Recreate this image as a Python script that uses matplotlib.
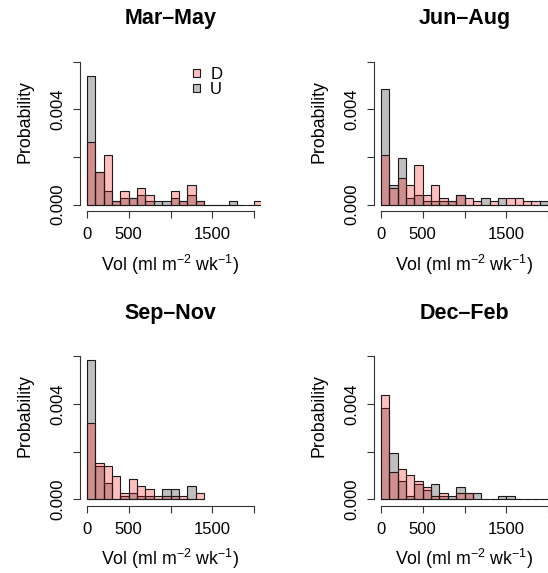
import numpy as np
import matplotlib
matplotlib.use("Agg")
import matplotlib.pyplot as plt
from matplotlib.patches import Patch

plt.rcParams['font.family'] = ['Liberation Sans', 'DejaVu Sans']
plt.rcParams['mathtext.fontset'] = 'custom'
plt.rcParams['mathtext.rm'] = 'Liberation Sans'
plt.rcParams['mathtext.default'] = 'regular'

# ---- data: weekly volume counts per 100 ml m^-2 wk^-1 bin, bins start at 0 ----
bin_width = 100
seasons = ["Mar\u2013May", "Jun\u2013Aug", "Sep\u2013Nov", "Dec\u2013Feb"]
groups = ["D", "U"]

mar_may_D = [19, 10, 15, 1, 4, 2, 5, 3, 0, 0, 4, 1, 6, 1, 0, 0, 0, 0, 0, 0, 1]
mar_may_U = [39, 10, 4, 1, 2, 2, 3, 1, 1, 1, 2, 1, 3, 1, 0, 0, 0, 1]
jun_aug_D = [15, 5, 8, 6, 12, 3, 6, 2, 1, 3, 2, 1, 0, 1, 0, 2, 2, 1, 1, 0, 1]
jun_aug_U = [35, 6, 14, 2, 3, 1, 1, 1, 1, 3, 0, 0, 2, 0, 2, 0, 0, 0, 0, 1]
sep_nov_D = [23, 11, 10, 7, 2, 6, 4, 3, 1, 1, 1, 1, 0, 2]
sep_nov_U = [42, 10, 5, 0, 1, 2, 1, 1, 0, 3, 3, 0, 4]
dec_feb_D = [34, 9, 10, 8, 6, 4, 1, 2, 0, 2, 2]
dec_feb_U = [30, 15, 6, 1, 5, 3, 5, 1, 1, 4, 2, 2, 0, 0, 1, 1, 0, 0, 0, 0, 1]

season_counts = [
    (mar_may_D, mar_may_U),
    (jun_aug_D, jun_aug_U),
    (sep_nov_D, sep_nov_U),
    (dec_feb_D, dec_feb_U),
]

x_ticks = [0, 500, 1000, 1500, 2000]
x_tick_labels = ["0", "500", "", "1500", ""]
y_ticks = [0, 0.002, 0.004, 0.006]
y_tick_labels = ["0.000", "", "0.004", ""]

# ---- styling ----
col_D = (1.0, 0.0, 0.0, 0.25)
col_U = (0.0, 0.0, 0.0, 0.25)
edge = "#1a1a1a"
W, H = 548, 573
fig = plt.figure(figsize=(W / 100, H / 100), dpi=100)


def px_axes(left, top, width, height):
    return [left / W, 1 - (top + height) / H, width / W, height / H]


col_left = [80.3, 374.3]
row_top = [31.2, 325.8]
ax_w, ax_h = 180.4, 180.2
ylo, yhi = -0.00028, 0.00728

for i, (title, (d_cnt, u_cnt)) in enumerate(zip(seasons, season_counts)):
    r, c = divmod(i, 2)
    ax = fig.add_axes(px_axes(col_left[c], row_top[r], ax_w, ax_h))
    for cnt, col in ((u_cnt, col_U), (d_cnt, col_D)):
        cnt = np.asarray(cnt, dtype=float)
        dens = cnt / (cnt.sum() * bin_width)
        left_edges = np.arange(len(cnt)) * bin_width
        ax.bar(left_edges, dens, width=bin_width, align="edge",
               facecolor=col, edgecolor=edge, linewidth=0.8)
    ax.set_xlim(-80, 2080)
    ax.set_ylim(ylo, yhi)
    for s in ("top", "right"):
        ax.spines[s].set_visible(False)
    ax.spines["left"].set_bounds(0, 0.006)
    ax.spines["bottom"].set_bounds(0, 2000)
    for s in ("left", "bottom"):
        ax.spines[s].set_linewidth(0.8)
        ax.spines[s].set_color("#333333")
    ax.set_xticks(x_ticks, x_tick_labels)
    ax.set_yticks(y_ticks, y_tick_labels)
    ax.tick_params(axis="both", length=5, width=0.8, color="#333333",
                   labelsize=12, pad=6.5)
    ax.tick_params(axis="y", labelrotation=90, pad=5.5)
    for lab in ax.get_yticklabels():
        lab.set_va("center")
    ax.set_title(title, fontsize=15.5, fontweight="bold", pad=5.2)
    ax.set_xlabel(r"Vol (ml m$^{-2}$ wk$^{-1}$)", fontsize=12.8)
    ax.xaxis.label.set_va("baseline")
    ax.xaxis.set_label_coords(0.5, -(270.7 - (row_top[0] + ax_h)) / ax_h)
    ax.set_ylabel("Probability", fontsize=12.8)
    ax.yaxis.label.set_va("baseline")
    ax.yaxis.set_label_coords(-(80.3 - 29.3) / ax_w, 0.5)

    if i == 0:
        handles = [Patch(facecolor=col_D, edgecolor=edge, linewidth=0.8),
                   Patch(facecolor=col_U, edgecolor=edge, linewidth=0.8)]
        ax.legend(handles, groups, frameon=False, fontsize=12,
                  handlelength=0.4, handleheight=0.4, handletextpad=0.6,
                  labelspacing=0.0, borderpad=0, borderaxespad=0,
                  loc="upper left",
                  bbox_to_anchor=((193.5 - 80.3) / ax_w, (211.4 - 67) / ax_h))

fig.savefig("out.png", dpi=100)
